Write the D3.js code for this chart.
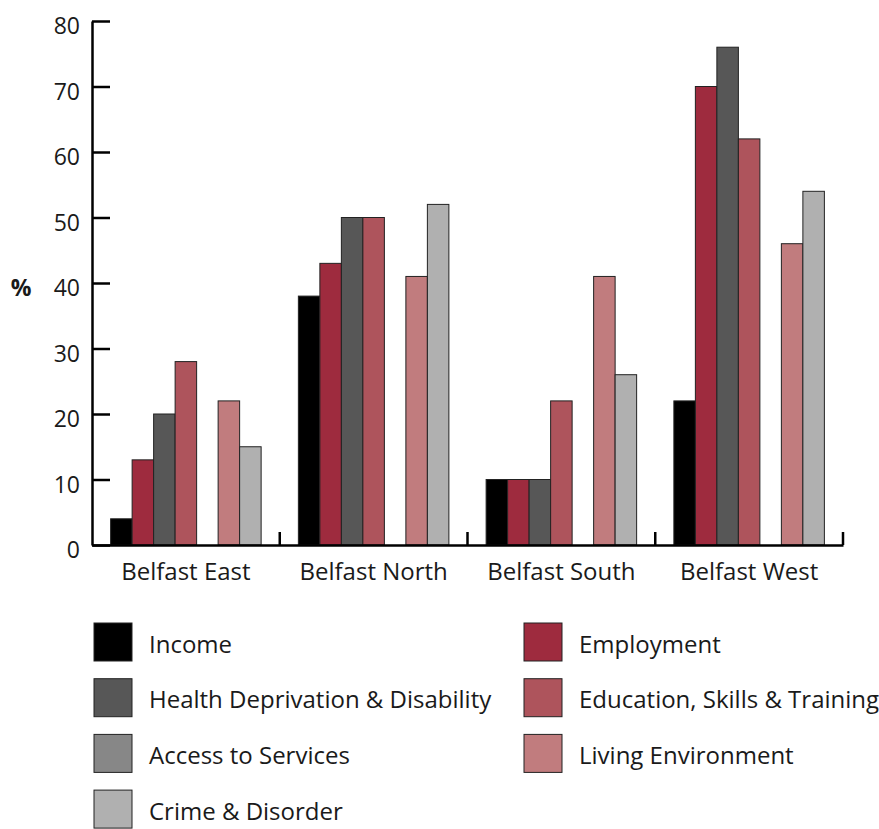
<!DOCTYPE html>
<html>
<head>
<meta charset="utf-8">
<script src="https://cdn.jsdelivr.net/npm/d3@7"></script>
<style>
  html, body { margin: 0; padding: 0; background: #fff; }
  svg { display: block; font-family: "Open Sans", sans-serif; }
</style>
</head>
<body>
<svg id="chart" width="879" height="829"></svg>
<script>
// Share of Super Output Areas in the most deprived 10% by domain, per constituency
const regions = ["Belfast East", "Belfast North", "Belfast South", "Belfast West"];
const domains = [
  "Income",
  "Employment",
  "Health Deprivation & Disability",
  "Education, Skills & Training",
  "Access to Services",
  "Living Environment",
  "Crime & Disorder"
];
const colors = ["#000000", "#9e2b3e", "#575757", "#ae545c", "#878787", "#c17c7e", "#b0b0b0"];

// values per domain, in region order
const income     = [4, 38, 10, 22];
const employment = [13, 43, 10, 70];
const health     = [20, 50, 10, 76];
const education  = [28, 50, 22, 62];
const access     = [0, 0, 0, 0];
const living     = [22, 41, 41, 46];
const crime      = [15, 52, 26, 54];
const series = [income, employment, health, education, access, living, crime];

const yTicks = [0, 10, 20, 30, 40, 50, 60, 70, 80];

const svg = d3.select("#chart");

const x = d3.scaleBand().domain(regions).range([92, 843]).padding(0);
const xi = d3.scaleBand().domain(d3.range(domains.length))
  .range([0, x.bandwidth()]).paddingInner(0).paddingOuter(0.866);
const y = d3.scaleLinear().domain([0, 80]).range([545, 21]);

// bars
const groups = svg.append("g").selectAll("g")
  .data(regions)
  .join("g")
  .attr("transform", d => `translate(${x(d)},0)`);

groups.selectAll("rect")
  .data((r, ri) => series.map((s, si) => ({ si, v: s[ri] })).filter(d => d.v > 0))
  .join("rect")
  .attr("x", d => xi(d.si))
  .attr("width", xi.bandwidth())
  .attr("y", d => y(d.v))
  .attr("height", d => y(0) - y(d.v))
  .attr("fill", d => colors[d.si])
  .attr("stroke", "#222")
  .attr("stroke-width", 1);

// y axis, ticks pointing inward
const yAxis = svg.append("g")
  .attr("transform", "translate(92,0)")
  .call(d3.axisLeft(y).tickValues(yTicks).tickSizeInner(-18).tickSizeOuter(0).tickPadding(12));
yAxis.select(".domain").attr("stroke", "#000").attr("stroke-width", 2.5);
yAxis.selectAll(".tick line").attr("stroke", "#000").attr("stroke-width", 2.5);
yAxis.selectAll(".tick text")
  .attr("font-size", 23).attr("fill", "#1a1a1a")
  .attr("dy", "0.56em")
  .attr("font-family", "'Open Sans', sans-serif");

// x axis baseline with category labels
const xAxis = svg.append("g")
  .attr("transform", `translate(0,${y(0)})`)
  .call(d3.axisBottom(x).tickSize(0).tickPadding(18));
xAxis.select(".domain").attr("stroke", "#000").attr("stroke-width", 2.5);
xAxis.selectAll(".tick text")
  .attr("font-size", 24).attr("fill", "#1a1a1a")
  .attr("font-family", "'Open Sans', sans-serif");

// group separators pointing up from the baseline
svg.append("g").selectAll("line")
  .data(regions)
  .join("line")
  .attr("x1", d => x(d) + x.bandwidth())
  .attr("x2", d => x(d) + x.bandwidth())
  .attr("y1", y(0))
  .attr("y2", y(0) - 13)
  .attr("stroke", "#000")
  .attr("stroke-width", 2.5);

// y axis title
svg.append("text")
  .attr("x", 21).attr("y", y(40) + 5)
  .attr("dy", "0.35em")
  .attr("text-anchor", "middle")
  .attr("font-size", 23).attr("font-weight", "bold")
  .attr("fill", "#1a1a1a")
  .text("%");

// legend in two columns
const legend = svg.append("g").selectAll("g")
  .data(domains)
  .join("g")
  .attr("transform", (d, i) => `translate(${i % 2 === 0 ? 94 : 524},${623 + Math.floor(i / 2) * 55.7})`);
legend.append("rect")
  .attr("width", 38).attr("height", 38)
  .attr("fill", (d, i) => colors[i])
  .attr("stroke", "#222").attr("stroke-width", 1);
legend.append("text")
  .attr("x", 55).attr("y", 19).attr("dy", "0.45em")
  .attr("font-size", 24).attr("fill", "#1a1a1a")
  .text(d => d);
</script>
</body>
</html>
